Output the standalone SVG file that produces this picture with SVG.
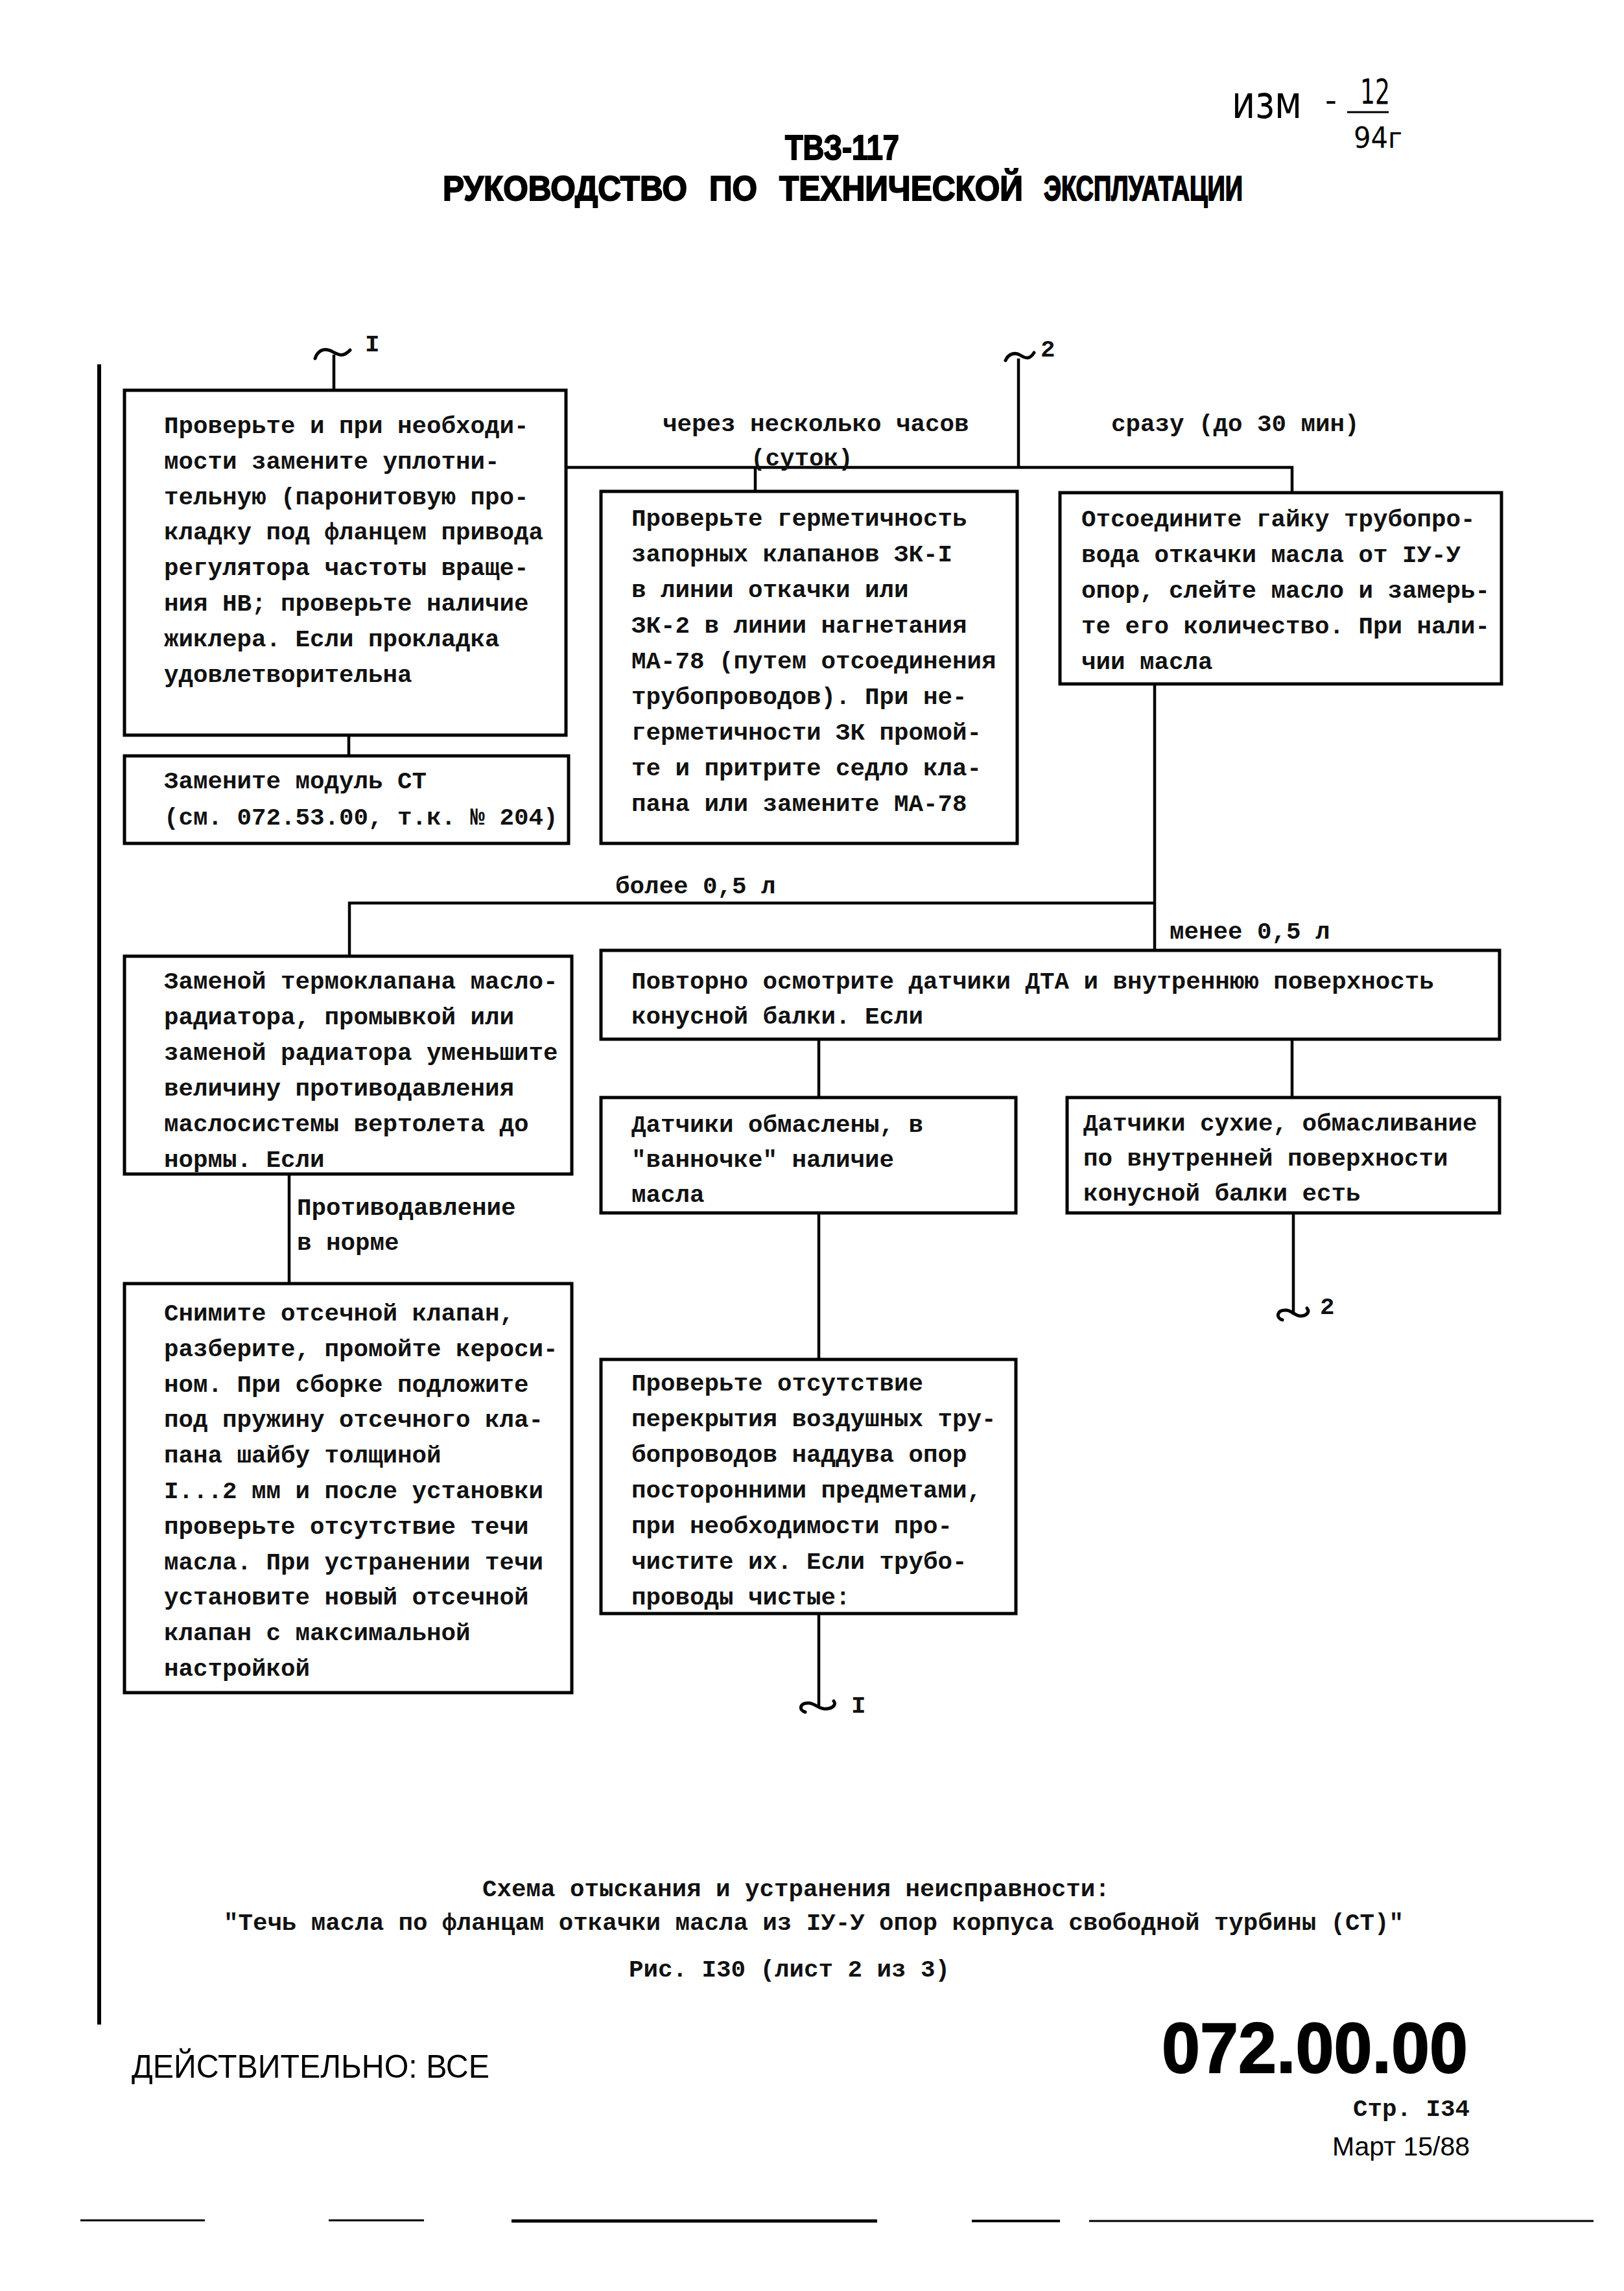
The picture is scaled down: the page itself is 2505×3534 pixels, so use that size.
<svg xmlns="http://www.w3.org/2000/svg" width="2505" height="3534" viewBox="0 0 2505 3534">
<style>
.box{fill:none;stroke:#000;stroke-width:5}
.ln{fill:none;stroke:#000;stroke-width:4.5}
.crl{fill:none;stroke:#000;stroke-width:5;stroke-linecap:round}
.t{font-family:"Liberation Mono","DejaVu Sans Mono",monospace;font-size:37.5px;font-weight:bold;fill:#111}
.hd{font-family:"Liberation Sans","DejaVu Sans",sans-serif;font-weight:bold;font-size:54px;fill:#000;stroke:#000;stroke-width:2}
.hw{font-family:"DejaVu Sans","Liberation Sans",sans-serif;fill:#000;font-weight:normal}
.sn{font-family:"Liberation Sans","DejaVu Sans",sans-serif;fill:#000}
</style>
<rect x="0" y="0" width="2505" height="3534" fill="#fff"/>

<g id="header">
<text class="hd" x="1211" y="246" textLength="176" lengthAdjust="spacingAndGlyphs">ТВЗ-117</text>
<text class="hd" x="683" y="309" textLength="377" lengthAdjust="spacingAndGlyphs">РУКОВОДСТВО</text>
<text class="hd" x="1094" y="309" textLength="74" lengthAdjust="spacingAndGlyphs">ПО</text>
<text class="hd" x="1202" y="309" textLength="376" lengthAdjust="spacingAndGlyphs">ТЕХНИЧЕСКОЙ</text>
<text class="hd" x="1610" y="309" textLength="307" lengthAdjust="spacingAndGlyphs">ЭКСПЛУАТАЦИИ</text>
<text class="hw" x="1900" y="182" font-size="70" textLength="108" lengthAdjust="spacingAndGlyphs">изм</text>
<text class="hw" x="2044" y="172" font-size="50">-</text>
<text class="hw" x="2098" y="160" font-size="54" textLength="46" lengthAdjust="spacingAndGlyphs">12</text>
<line x1="2078" y1="173" x2="2142" y2="173" stroke="#000" stroke-width="3"/>
<text class="hw" x="2088" y="228" font-size="44" textLength="75" lengthAdjust="spacingAndGlyphs">94г</text>
</g>

<g id="page-frame">
<line x1="153" y1="562" x2="153" y2="3123" stroke="#000" stroke-width="6"/>
<g stroke="#000" stroke-width="3">
<line x1="124" y1="3425" x2="316" y2="3425"/>
<line x1="507" y1="3425" x2="654" y2="3425"/>
<line x1="789" y1="3426" x2="1353" y2="3426" stroke-width="5"/>
<line x1="1499" y1="3426" x2="1635" y2="3426" stroke-width="4"/>
<line x1="1680" y1="3426" x2="2458" y2="3426"/>
</g>
</g>

<g id="connectors">
<path class="crl" d="M486,553 C490,540 500,537 510,541 C520,546 528,553 540,540"/>
<text class="t" x="563" y="542" font-weight="normal">I</text>
<line class="ln" x1="515" y1="547" x2="515" y2="602"/>
<path class="crl" d="M1551,556 C1556,545 1566,543 1574,548 C1582,553 1588,555 1595,544"/>
<text class="t" x="1605" y="550" font-weight="normal" font-size="34">2</text>
<line class="ln" x1="1571" y1="553" x2="1571" y2="721"/>
<line class="ln" x1="873" y1="721" x2="1995" y2="721"/>
<line class="ln" x1="1165" y1="721" x2="1165" y2="758"/>
<line class="ln" x1="1993" y1="719" x2="1993" y2="760"/>
<line class="ln" x1="538" y1="1134" x2="538" y2="1166"/>
<line class="ln" x1="1781" y1="1055" x2="1781" y2="1466"/>
<line class="ln" x1="537" y1="1393" x2="1783" y2="1393"/>
<line class="ln" x1="539" y1="1391" x2="539" y2="1475"/>
<line class="ln" x1="1263" y1="1603" x2="1263" y2="1693"/>
<line class="ln" x1="1993" y1="1603" x2="1993" y2="1693"/>
<line class="ln" x1="1263" y1="1871" x2="1263" y2="2097"/>
<line class="ln" x1="446" y1="1811" x2="446" y2="1980"/>
<line class="ln" x1="1263" y1="2489" x2="1263" y2="2633"/>
<path class="crl" d="M1242,2641 C1232,2638 1233,2627 1247,2627 C1257,2627 1262,2636 1273,2636 C1283,2636 1291,2630 1286,2624"/>
<text class="t" x="1313" y="2642" font-weight="normal">I</text>
<line class="ln" x1="1995" y1="1871" x2="1995" y2="2028"/>
<path class="crl" d="M1978,2036 C1968,2033 1969,2021 1983,2021 C1993,2021 1997,2030 2006,2030 C2015,2030 2021,2024 2016,2018"/>
<text class="t" x="2036" y="2027" font-weight="normal">2</text>
<text class="t" x="1022" y="665">через несколько часов</text>
<text class="t" x="1158" y="718">(суток)</text>
<text class="t" x="1714" y="665">сразу (до 30 мин)</text>
<text class="t" x="949" y="1378">более 0,5 л</text>
<text class="t" x="1804" y="1448">менее 0,5 л</text>
<text class="t"><tspan x="458" y="1874">Противодавление</tspan><tspan x="458" y="1928">в норме</tspan></text>
</g>

<g id="node-check-gasket">
<rect class="box" x="192" y="602" width="681" height="532"/>
<text class="t">
<tspan x="253" y="668">Проверьте и при необходи-</tspan>
<tspan x="253" y="723">мости замените уплотни-</tspan>
<tspan x="253" y="778">тельную (паронитовую про-</tspan>
<tspan x="253" y="832">кладку под фланцем привода</tspan>
<tspan x="253" y="887">регулятора частоты враще-</tspan>
<tspan x="253" y="942">ния НВ; проверьте наличие</tspan>
<tspan x="253" y="997">жиклера. Если прокладка</tspan>
<tspan x="253" y="1052">удовлетворительна</tspan>
</text>
</g>

<g id="node-replace-module">
<rect class="box" x="192" y="1166" width="685" height="135"/>
<text class="t">
<tspan x="253" y="1216">Замените модуль СТ</tspan>
<tspan x="253" y="1272">(см. 072.53.00, т.к. № 204)</tspan>
</text>
</g>

<g id="node-check-valves">
<rect class="box" x="927" y="758" width="642" height="543"/>
<text class="t">
<tspan x="974" y="811">Проверьте герметичность</tspan>
<tspan x="974" y="866">запорных клапанов ЗК-I</tspan>
<tspan x="974" y="921">в линии откачки или</tspan>
<tspan x="974" y="976">ЗК-2 в линии нагнетания</tspan>
<tspan x="974" y="1031">МА-78 (путем отсоединения</tspan>
<tspan x="974" y="1086">трубопроводов). При не-</tspan>
<tspan x="974" y="1141">герметичности ЗК промой-</tspan>
<tspan x="974" y="1196">те и притрите седло кла-</tspan>
<tspan x="974" y="1251">пана или замените МА-78</tspan>
</text>
</g>

<g id="node-disconnect-nut">
<rect class="box" x="1635" y="760" width="681" height="295"/>
<text class="t">
<tspan x="1668" y="812">Отсоедините гайку трубопро-</tspan>
<tspan x="1668" y="867">вода откачки масла от IУ-У</tspan>
<tspan x="1668" y="922">опор, слейте масло и замерь-</tspan>
<tspan x="1668" y="977">те его количество. При нали-</tspan>
<tspan x="1668" y="1032">чии масла</tspan>
</text>
</g>

<g id="node-thermovalve">
<rect class="box" x="192" y="1475" width="690" height="336"/>
<text class="t">
<tspan x="253" y="1525">Заменой термоклапана масло-</tspan>
<tspan x="253" y="1580">радиатора, промывкой или</tspan>
<tspan x="253" y="1635">заменой радиатора уменьшите</tspan>
<tspan x="253" y="1690">величину противодавления</tspan>
<tspan x="253" y="1745">маслосистемы вертолета до</tspan>
<tspan x="253" y="1800">нормы. Если</tspan>
</text>
</g>

<g id="node-inspect-sensors">
<rect class="box" x="927" y="1466" width="1386" height="137"/>
<text class="t">
<tspan x="974" y="1525">Повторно осмотрите датчики ДТА и внутреннюю поверхность</tspan>
<tspan x="974" y="1579">конусной балки. Если</tspan>
</text>
</g>

<g id="node-sensors-oily">
<rect class="box" x="927" y="1693" width="640" height="178"/>
<text class="t">
<tspan x="974" y="1746">Датчики обмаслены, в</tspan>
<tspan x="974" y="1800">"ванночке" наличие</tspan>
<tspan x="974" y="1854">масла</tspan>
</text>
</g>

<g id="node-sensors-dry">
<rect class="box" x="1646" y="1693" width="667" height="178"/>
<text class="t">
<tspan x="1671" y="1744">Датчики сухие, обмасливание</tspan>
<tspan x="1671" y="1798">по внутренней поверхности</tspan>
<tspan x="1671" y="1852">конусной балки есть</tspan>
</text>
</g>

<g id="node-remove-valve">
<rect class="box" x="192" y="1980" width="690" height="631"/>
<text class="t">
<tspan x="253" y="2037">Снимите отсечной клапан,</tspan>
<tspan x="253" y="2092">разберите, промойте кероси-</tspan>
<tspan x="253" y="2147">ном. При сборке подложите</tspan>
<tspan x="253" y="2201">под пружину отсечного кла-</tspan>
<tspan x="253" y="2256">пана шайбу толщиной</tspan>
<tspan x="253" y="2311">I...2 мм и после установки</tspan>
<tspan x="253" y="2366">проверьте отсутствие течи</tspan>
<tspan x="253" y="2421">масла. При устранении течи</tspan>
<tspan x="253" y="2475">установите новый отсечной</tspan>
<tspan x="253" y="2530">клапан с максимальной</tspan>
<tspan x="253" y="2585">настройкой</tspan>
</text>
</g>

<g id="node-check-air-lines">
<rect class="box" x="927" y="2097" width="640" height="392"/>
<text class="t">
<tspan x="974" y="2145">Проверьте отсутствие</tspan>
<tspan x="974" y="2200">перекрытия воздушных тру-</tspan>
<tspan x="974" y="2255">бопроводов наддува опор</tspan>
<tspan x="974" y="2310">посторонними предметами,</tspan>
<tspan x="974" y="2365">при необходимости про-</tspan>
<tspan x="974" y="2420">чистите их. Если трубо-</tspan>
<tspan x="974" y="2475">проводы чистые:</tspan>
</text>
</g>

<g id="caption">
<text class="t" x="744" y="2925">Схема отыскания и устранения неисправности:</text>
<text class="t" x="345" y="2977" textLength="1820" lengthAdjust="spacing">"Течь масла по фланцам откачки масла из IУ-У опор корпуса свободной турбины (СТ)"</text>
<text class="t" x="970" y="3049">Рис. I30 (лист 2 из 3)</text>
</g>

<g id="footer">
<text class="sn" x="203" y="3205" font-size="50" textLength="552" lengthAdjust="spacingAndGlyphs">ДЕЙСТВИТЕЛЬНО: ВСЕ</text>
<text class="sn" x="1792" y="3197" font-size="110" font-weight="bold" textLength="472" lengthAdjust="spacingAndGlyphs" stroke="#000" stroke-width="2">072.00.00</text>
<text class="t" x="2267" y="3264" text-anchor="end">Стр. I34</text>
<text class="sn" x="2267" y="3325" font-size="41" text-anchor="end">Март 15/88</text>
</g>
</svg>
